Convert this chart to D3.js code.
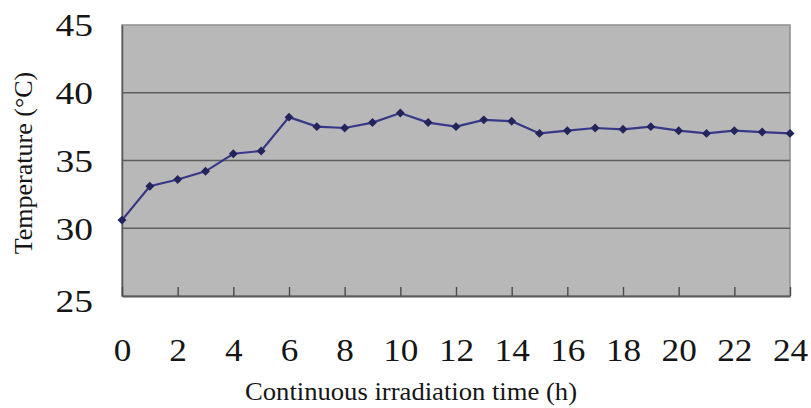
<!DOCTYPE html>
<html>
<head>
<meta charset="utf-8">
<script src="https://cdn.jsdelivr.net/npm/d3@7"></script>
<style>
  html, body { margin: 0; padding: 0; background: #ffffff; }
  svg { display: block; }
</style>
</head>
<body>
<svg id="chart" width="811" height="408"></svg>
<script>
// Hourly temperature readings under continuous irradiation
const hours = [0, 1, 2, 3, 4, 5, 6, 7, 8, 9, 10, 11, 12, 13, 14, 15, 16, 17, 18, 19, 20, 21, 22, 23, 24];
const temperature = [30.6, 33.1, 33.6, 34.2, 35.5, 35.7, 38.2, 37.5, 37.4, 37.8, 38.5, 37.8, 37.5, 38.0, 37.9, 37.0, 37.2, 37.4, 37.3, 37.5, 37.2, 37.0, 37.2, 37.1, 37.0];
const xTicks = [0, 2, 4, 6, 8, 10, 12, 14, 16, 18, 20, 22, 24];
const yTicks = [25, 30, 35, 40, 45];
const xTitle = "Continuous irradiation time (h)";
const yTitle = "Temperature (°C)";

const serif = "'Liberation Serif', 'Times New Roman', serif";
const ink = "#151515";
const svg = d3.select("#chart");
const plot = { left: 122, right: 790, top: 25, bottom: 296 };

const x = d3.scaleLinear().domain([0, 24]).range([plot.left, plot.right]);
const y = d3.scaleLinear().domain([25, 45]).range([plot.bottom, plot.top]);

// plot background
svg.append("rect")
  .attr("x", plot.left).attr("y", plot.top)
  .attr("width", plot.right - plot.left).attr("height", plot.bottom - plot.top)
  .attr("fill", "#b8b8b8")
  .attr("stroke", "#8e8e8e").attr("stroke-width", 1.5);

// horizontal gridlines
svg.append("g")
  .selectAll("line")
  .data(yTicks.filter(d => d > 25 && d < 45))
  .join("line")
  .attr("x1", plot.left).attr("x2", plot.right)
  .attr("y1", d => y(d)).attr("y2", d => y(d))
  .attr("stroke", "#5e5e5e").attr("stroke-width", 1.6);

// y axis: wide serif labels, no tick marks
const yPad = 29, yStretch = 1.17;
const yAxis = d3.axisLeft(y).tickValues(yTicks).tickSize(0).tickPadding(yPad);
const yg = svg.append("g").attr("transform", `translate(${plot.left},0)`).call(yAxis)
  .attr("font-family", serif);
yg.select(".domain").attr("stroke", "#5a5a5a").attr("stroke-width", 1.5);
yg.selectAll("text")
  .attr("font-size", 32).attr("fill", ink)
  .attr("x", -yPad / yStretch)
  .attr("dy", d => d === 25 ? "0.48em" : "0.34em")
  .attr("transform", `scale(${yStretch},1)`);

// x axis: inward ticks, labels set well below the frame
const xStretch = 1.1;
const xAxis = d3.axisBottom(x).tickValues(xTicks).tickSizeInner(-9).tickSizeOuter(0).tickPadding(42);
const xg = svg.append("g").attr("transform", `translate(0,${plot.bottom})`).call(xAxis)
  .attr("font-family", serif);
xg.select(".domain").attr("stroke", "#5a5a5a").attr("stroke-width", 1.8);
xg.selectAll(".tick line").attr("stroke", "#4a4a4a").attr("stroke-width", 1.4);
xg.selectAll("text")
  .attr("font-size", 32).attr("fill", ink)
  .attr("transform", `scale(${xStretch},1)`);

// temperature line
const line = d3.line().x((d, i) => x(hours[i])).y(d => y(d));
svg.append("path")
  .datum(temperature)
  .attr("d", line)
  .attr("fill", "none")
  .attr("stroke", "#383888").attr("stroke-width", 2.2);

// diamond markers (rotated squares)
const marker = d3.symbol().type(d3.symbolSquare).size(40);
svg.append("g")
  .selectAll("path")
  .data(temperature)
  .join("path")
  .attr("transform", (d, i) => `translate(${x(hours[i])},${y(d)}) rotate(45)`)
  .attr("d", marker)
  .attr("fill", "#24245c");

// axis titles
svg.append("text")
  .attr("x", 411).attr("y", 400)
  .attr("text-anchor", "middle")
  .attr("font-family", serif)
  .attr("font-size", 26)
  .attr("fill", ink)
  .attr("textLength", 332)
  .attr("lengthAdjust", "spacingAndGlyphs")
  .text(xTitle);

svg.append("text")
  .attr("transform", "translate(32,163) rotate(-90)")
  .attr("text-anchor", "middle")
  .attr("font-family", serif)
  .attr("font-size", 26)
  .attr("fill", ink)
  .text(yTitle);
</script>
</body>
</html>
